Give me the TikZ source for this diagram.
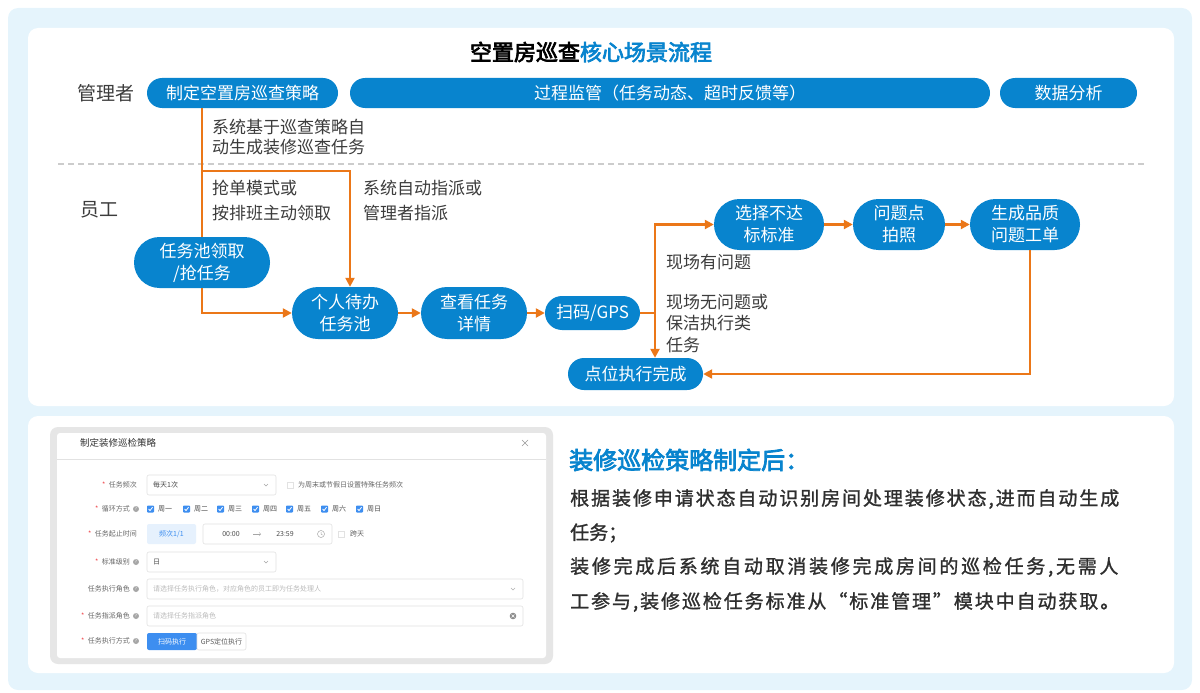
\documentclass[tikz,border=0pt]{standalone}
\usepackage{fontspec}
\setmainfont{Noto Sans CJK SC}
\newfontfamily\hb{Noto Sans CJK SC}[FakeBold=3.2]
\newfontfamily\hm{Noto Sans CJK SC}[FakeBold=1.2]
\usetikzlibrary{arrows.meta}
\definecolor{outerbg}{HTML}{E5F4FC}
\definecolor{pblue}{HTML}{0884CE}
\definecolor{org}{HTML}{EB7718}
\definecolor{txt}{HTML}{3C3C3C}
\definecolor{btxt}{HTML}{2E2E2E}
\definecolor{dashc}{HTML}{CCCCCC}
\definecolor{frame}{HTML}{E6E6E6}
\definecolor{flab}{HTML}{666666}
\definecolor{fred}{HTML}{F0454A}
\definecolor{fph}{HTML}{BBBBBB}
\definecolor{fbl}{HTML}{3D8EF0}
\definecolor{fbox}{HTML}{E2E2E2}
\definecolor{fltb}{HTML}{E6F1FD}
\def\SpreadEnd{\SpreadEnd}
\def\Spread#1{\SpreadA#1\SpreadEnd}
\def\SpreadA#1{\ifx#1\SpreadEnd\else#1\hfil\expandafter\SpreadA\fi}
\begin{document}
\begin{tikzpicture}[x=1pt,y=-1pt,
  pill/.style={fill=pblue, text=white, inner sep=0pt, align=center, font=\fontsize{17}{22}\selectfont},
  lbl/.style={text=txt, inner sep=0pt, anchor=west, align=left},
  ln/.style={draw=org, line width=2.6pt},
  arr/.style={draw=org, line width=2.6pt, -{Triangle[length=9pt,width=9pt]}},
  flab/.style={text=flab, inner sep=0pt, font=\fontsize{7}{8}\selectfont},
  ast/.style={text=fred, inner sep=0pt, font=\fontsize{7}{8}\selectfont},
  fval/.style={text=black!70, inner sep=0pt, anchor=west, font=\fontsize{7}{8}\selectfont},
  fph/.style={text=fph, inner sep=0pt, anchor=west, font=\fontsize{7}{8}\selectfont},
  fin/.style={draw=fbox, fill=white, line width=0.6pt, rounded corners=2pt},
  qmark/.style={circle, fill=black!35, text=white, inner sep=0pt, minimum size=6pt, font=\fontsize{4.5}{5}\selectfont},
  body/.style={text=btxt, inner sep=0pt, anchor=west, font=\hm\fontsize{19}{22}\selectfont}
]
\useasboundingbox (0,0) rectangle (1200,693);
% backgrounds
\fill[outerbg, rounded corners=10pt] (8,8) rectangle (1192,690);
\fill[white, rounded corners=10pt] (28,28) rectangle (1174,406);
\fill[white, rounded corners=10pt] (28,416) rectangle (1174,673);

% title
\node[inner sep=0pt, text=black] (title) at (591,52) {\hb\fontsize{22}{24}\selectfont 空置房巡查\textcolor{pblue}{核心场景流程}};

% lanes
\node[text=txt, inner sep=0pt, font=\fontsize{19}{22}\selectfont] (mgr) at (106,93) {管理者};
\node[text=txt, inner sep=0pt, font=\fontsize{19}{22}\selectfont] (emp) at (99,210) {员工};
\draw[dashc, line width=1.5pt, dash pattern=on 6pt off 4pt] (58,164) -- (1145,164);

% top pills
\node[pill, minimum width=191pt, minimum height=30pt, rounded corners=15pt] (p1) at (242.5,93) {制定空置房巡查策略};
\node[pill, minimum width=640pt, minimum height=30pt, rounded corners=15pt] (p2) at (670,93) {过程监管（任务动态、超时反馈等）};
\node[pill, minimum width=137pt, minimum height=30pt, rounded corners=15pt] (p3) at (1068.5,93) {数据分析};

% flow nodes
\node[pill, minimum width=136pt, minimum height=51pt, rounded corners=25.5pt] (n1) at (202,262.5) {任务池领取\\/抢任务};
\node[pill, minimum width=106pt, minimum height=52pt, rounded corners=26pt] (n2) at (345,313) {个人待办\\任务池};
\node[pill, minimum width=106pt, minimum height=52pt, rounded corners=26pt] (n3) at (474,313) {查看任务\\详情};
\node[pill, minimum width=95pt, minimum height=34pt, rounded corners=17pt] (n4) at (592.5,313) {扫码/GPS};
\node[pill, minimum width=110pt, minimum height=51pt, rounded corners=25.5pt] (n5) at (769,224.5) {选择不达\\标标准};
\node[pill, minimum width=92pt, minimum height=51pt, rounded corners=25.5pt] (n6) at (899,224.5) {问题点\\拍照};
\node[pill, minimum width=110pt, minimum height=51pt, rounded corners=25.5pt] (n7) at (1025,224.5) {生成品质\\问题工单};
\node[pill, minimum width=135pt, minimum height=32pt, rounded corners=16pt] (n8) at (635.5,374) {点位执行完成};

% connectors
\coordinate (br) at (350,171);
\coordinate (sp) at (655,313);
\coordinate (c7) at (1030,374);
\draw[ln] (p1.south -| n1.north) -- (n1.north);
\draw[arr] (n1.north |- br) -- (br) -- (br |- n2.north);
\draw[arr] (n1.south) |- (n2.west);
\draw[arr] (n2) -- (n3);
\draw[arr] (n3) -- (n4);
\draw[ln] (n4.east) -- (sp);
\draw[arr] (sp) |- (n5.west);
\draw[arr] (sp) -- (sp |- n8.north);
\draw[arr] (n5) -- (n6);
\draw[arr] (n6) -- (n7);
\draw[arr] (c7 |- n7.south) -- (c7) -- (n8.east);

% connector labels
\node[lbl, font=\fontsize{17}{20}\selectfont] (t1) at (212,137) {系统基于巡查策略自\\动生成装修巡查任务};
\node[lbl, font=\fontsize{17}{25}\selectfont] (t2) at (212,200.5) {抢单模式或\\按排班主动领取};
\node[lbl, font=\fontsize{17}{25}\selectfont] (t3) at (363,200.5) {系统自动指派或\\管理者指派};
\node[lbl, font=\fontsize{17}{21.5}\selectfont] (t4) at (666,262) {现场有问题};
\node[lbl, font=\fontsize{17}{21.5}\selectfont] (t5) at (666,323.5) {现场无问题或\\保洁执行类\\任务};

% ---------- form mock-up ----------
\fill[frame, rounded corners=8pt] (50,427) rectangle (553,664);
\fill[white, rounded corners=3pt] (57,433) rectangle (546,658);
\draw[fbox, line width=0.6pt] (57,459) -- (546,459);
\node[anchor=west, inner sep=0pt, text=black!80, font=\fontsize{9.5}{10}\selectfont] (ftitle) at (80,443) {制定装修巡检策略};
\draw[black!40, line width=0.6pt] (522,440) -- (528,446) (522,446) -- (528,440);

% row 1
\node[flab, anchor=east] (l1) at (137,485) {任务频次};
\node[ast, anchor=east] at ([xshift=-3pt]l1.west) {*};
\draw[fin] (147,475) rectangle (276,495);
\node[fval] at (153,485) {每天1次};
\draw[black!35, line width=0.5pt] (264,484) -- (266,486) -- (268,484);
\draw[fbox, line width=0.6pt] (287,482) rectangle (293,488);
\node[fval, text=black!60] at (298,485) {为周末或节假日设置特殊任务频次};

% row 2
\node[flab, anchor=east] (l2) at (130,509) {循环方式};
\node[ast, anchor=east] at ([xshift=-3pt]l2.west) {*};
\node[qmark] at (136,509) {?};
\foreach \x/\d in {147/周一,183/周二,217/周三,252/周四,286/周五,321/周六,356/周日}{
  \fill[fbl, rounded corners=0.8pt] (\x,505.5) rectangle ++(7,7);
  \draw[white, line width=0.8pt] (\x+1.6,509) -- (\x+3,510.6) -- (\x+5.6,507.2);
  \node[fval] at (\x+11,509) {\d};
}

% row 3
\node[flab, anchor=east] (l3) at (137,534) {任务起止时间};
\node[ast, anchor=east] at ([xshift=-3pt]l3.west) {*};
\fill[fltb, rounded corners=2pt] (147,524) rectangle (196,544);
\node[inner sep=0pt, text=fbl, font=\fontsize{7}{8}\selectfont] at (171.5,534) {频次1/1};
\draw[fin] (203,524) rectangle (332,544);
\node[inner sep=0pt, text=black!70, font=\fontsize{7}{8}\selectfont] at (231,534) {00:00};
\draw[black!35, line width=0.5pt, -{Straight Barb[length=1.5pt]}] (253,534) -- (261,534);
\node[inner sep=0pt, text=black!70, font=\fontsize{7}{8}\selectfont] at (285,534) {23:59};
\draw[black!35, line width=0.5pt] (321,534) circle (3.5pt) (321,532) -- (321,534) -- (322.5,535);
\draw[fbox, line width=0.6pt] (338,531) rectangle (344,537);
\node[fval, text=black!60] at (350,534) {跨天};

% row 4
\node[flab, anchor=east] (l4) at (130,562) {标准级别};
\node[ast, anchor=east] at ([xshift=-3pt]l4.west) {*};
\node[qmark] at (136,562) {?};
\draw[fin] (147,552) rectangle (276,572);
\node[fval] at (153,562) {日};
\draw[black!35, line width=0.5pt] (264,561) -- (266,563) -- (268,561);

% row 5
\node[flab, anchor=east] (l5) at (130,589) {任务执行角色};
\node[qmark] at (136,589) {?};
\draw[fin] (147,579) rectangle (523,599);
\node[fph] at (153,589) {请选择任务执行角色，对应角色的员工即为任务处理人};
\draw[black!30, line width=0.5pt] (511,588) -- (513,590) -- (515,588);

% row 6
\node[flab, anchor=east] (l6) at (130,616) {任务指派角色};
\node[ast, anchor=east] at ([xshift=-3pt]l6.west) {*};
\node[qmark] at (136,616) {?};
\draw[fin] (147,606) rectangle (523,626);
\node[fph] at (153,616) {请选择任务指派角色};
\fill[black!45] (513,616) circle (3.3pt);
\draw[white, line width=0.6pt] (511.6,614.6) -- (514.4,617.4) (511.6,617.4) -- (514.4,614.6);

% row 7
\node[flab, anchor=east] (l7) at (130,641) {任务执行方式};
\node[ast, anchor=east] at ([xshift=-3pt]l7.west) {*};
\node[qmark] at (136,641) {?};
\fill[fbl, rounded corners=2pt] (147,633) rectangle (197,650);
\node[inner sep=0pt, text=white, font=\fontsize{7}{8}\selectfont] at (172,641.5) {扫码执行};
\draw[fin] (197,633) rectangle (246,650);
\node[inner sep=0pt, text=black!65, font=\fontsize{7}{8}\selectfont] at (221.5,641.5) {GPS定位执行};

% ---------- right text ----------
\node[anchor=west, inner sep=0pt, text=pblue, font=\hb\fontsize{24}{26}\selectfont] (head) at (569,460) {装修巡检策略制定后：};
\node[body] (b1) at (570,499) {\makebox[551pt][l]{\Spread{根据装修申请状态自动识别房间处理装修状态,进而自动生成}\unskip}};
\node[body] (b2) at (570,533) {任务；};
\node[body] (b3) at (570,567) {\makebox[551pt][l]{\Spread{装修完成后系统自动取消装修完成房间的巡检任务,无需人}\unskip}};
\node[body] (b4) at (570,602) {\makebox[551pt][l]{\Spread{工参与,装修巡检任务标准从“标准管理”模块中自动获取。}\unskip}};
\end{tikzpicture}
\end{document}
